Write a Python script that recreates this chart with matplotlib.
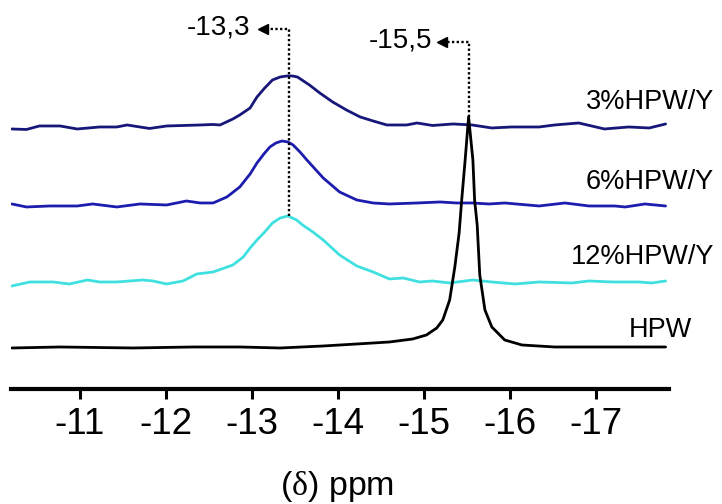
import matplotlib.pyplot as plt

plt.rcParams['font.family'] = ['Liberation Sans', 'DejaVu Sans']
plt.rcParams['axes.unicode_minus'] = False
plt.rcParams['mathtext.fontset'] = 'custom'
plt.rcParams['mathtext.rm'] = 'Liberation Serif'

# chemical shift (ppm) and intensity (a.u., relative to each baseline)
ppm_3 = [-10.21, -10.38, -10.53, -10.77, -10.97, -11.23, -11.43, -11.55, -11.81, -12.01,
         -12.40, -12.55, -12.63, -12.78, -12.86, -12.98, -13.06, -13.15, -13.24, -13.33,
         -13.41, -13.47, -13.53, -13.67, -13.79, -13.94, -14.10, -14.26, -14.41, -14.57,
         -14.80, -14.92, -15.10, -15.34, -15.56, -15.79, -16.02, -16.34, -16.52, -16.80,
         -17.10, -17.38, -17.62, -17.81]
int_3 = [-0.3, -0.35, 0.0, 0.0, -0.3, -0.1, -0.1, 0.1, -0.25, 0.0,
         0.1, 0.15, 0.1, 0.7, 1.1, 1.8, 2.9, 3.8, 4.6, 4.9,
         5.0, 5.0, 4.9, 4.1, 3.3, 2.4, 1.6, 0.9, 0.5, 0.1,
         0.1, 0.3, 0.05, 0.2, 0.1, -0.2, -0.1, -0.1, 0.1, 0.3,
         -0.3, -0.1, -0.2, 0.2]

ppm_6 = [-10.21, -10.38, -10.65, -10.97, -11.15, -11.43, -11.70, -12.01, -12.24, -12.40,
         -12.55, -12.71, -12.86, -12.98, -13.06, -13.14, -13.21, -13.28, -13.35, -13.42,
         -13.48, -13.56, -13.64, -13.83, -14.02, -14.22, -14.41, -14.60, -14.92, -15.19,
         -15.38, -15.56, -15.76, -15.94, -16.34, -16.64, -16.92, -17.22, -17.34, -17.57,
         -17.81]
int_6 = [0.0, -0.3, -0.2, -0.2, 0.0, -0.3, 0.0, -0.1, 0.3, 0.1,
         0.1, 0.7, 1.7, 3.0, 4.1, 5.0, 5.7, 6.1, 6.3, 6.2,
         5.9, 5.2, 4.4, 2.6, 1.2, 0.4, 0.1, 0.0, 0.1, 0.2,
         0.1, 0.1, 0.0, 0.1, -0.2, 0.1, -0.2, -0.2, -0.3, 0.0,
         -0.2]

ppm_12 = [-10.21, -10.42, -10.69, -10.88, -11.09, -11.23, -11.43, -11.73, -11.85, -12.01,
          -12.20, -12.36, -12.55, -12.78, -12.90, -12.98, -13.06, -13.15, -13.24, -13.33,
          -13.42, -13.52, -13.59, -13.71, -13.83, -14.02, -14.22, -14.41, -14.60, -14.76,
          -14.95, -15.10, -15.30, -15.57, -15.79, -16.06, -16.34, -16.72, -16.92, -17.19,
          -17.50, -17.65, -17.81]
int_12 = [-0.4, 0.0, 0.0, -0.2, 0.2, 0.0, 0.0, 0.2, 0.1, -0.2,
          0.1, 0.8, 1.0, 1.7, 2.5, 3.4, 4.2, 5.0, 5.9, 6.4,
          6.6, 6.2, 5.7, 5.0, 4.2, 2.7, 1.6, 1.0, 0.3, 0.4,
          0.0, 0.1, -0.1, 0.2, 0.0, -0.2, 0.0, -0.1, 0.1, 0.0,
          0.0, -0.1, 0.1]

ppm_hpw = [-10.21, -10.77, -11.62, -12.31, -12.86, -13.33, -13.83, -14.22, -14.60, -14.87,
           -15.03, -15.15, -15.22, -15.30, -15.36, -15.41, -15.44, -15.48, -15.52, -15.57,
           -15.59, -15.62, -15.65, -15.71, -15.79, -15.94, -16.14, -16.52, -17.05, -17.81]
int_hpw = [-0.1, 0.0, -0.1, 0.0, 0.0, -0.1, 0.1, 0.3, 0.5, 0.8,
           1.2, 1.9, 2.7, 4.7, 8.0, 11.4, 14.7, 18.7, 23.0, 18.7,
           14.7, 12.2, 7.2, 3.7, 2.0, 0.7, 0.2, 0.0, 0.0, 0.0]

names = ['3%HPW/Y', '6%HPW/Y', '12%HPW/Y', 'HPW']
peak_labels = ['-13,3', '-15,5']
peak_pos = [-13.43, -15.52]
xticks = [-11, -12, -13, -14, -15, -16, -17]

fig = plt.figure(figsize=(7.22, 5.04), dpi=100)
ax = fig.add_axes([0.0152, 0.2282, 0.9114, 0.754])

series = [(ppm_3, int_3, 26.3, '#17177a'),
          (ppm_6, int_6, 18.5, '#1c1cae'),
          (ppm_12, int_12, 10.7, '#40e0e0'),
          (ppm_hpw, int_hpw, 4.2, 'black')]
for xs, ys, off, col in series:
    ax.plot(xs, [v + off for v in ys], color=col, lw=2,
            solid_joinstyle='round', solid_capstyle='round')

# sample labels at the right side
label_y = [28.7, 20.7, 13.2, 5.9]
label_x = [1.068, 1.068, 1.068, 1.035]
for name, lx, ly in zip(names, label_x, label_y):
    ax.text(lx, ly, name, transform=ax.get_yaxis_transform(), ha='right', va='center',
            fontsize=19.5)

# peak markers: dotted line up from the peak, then left with arrow
peak_tops = [10.7 + max(int_12), 4.2 + max(int_hpw)]
corner_y = [36.0, 34.7]
tip_x = [-13.13, -15.21]
text_x = [-12.98, -15.10]
for lab, xp, yt, cy, tx, lx in zip(peak_labels, peak_pos, peak_tops, corner_y, tip_x, text_x):
    ax.plot([xp, xp, tx], [yt, cy, cy], color='black', lw=1.7, ls=(0, (1, 1)), zorder=5)
    ax.plot([tx], [cy], marker='<', color='black', ms=6.5, zorder=5)
    ax.text(lx, cy + 0.1, lab, ha='right', va='center', fontsize=20)

ax.set_xlim(-10.2, -17.85)
ax.set_ylim(0, 38)
ax.set_xticks(xticks)
ax.set_xticklabels([str(t) for t in xticks])
ax.set_yticks([])
for s in ['top', 'left', 'right']:
    ax.spines[s].set_visible(False)
ax.spines['bottom'].set_linewidth(3)
ax.tick_params(axis='x', direction='out', length=7, width=2.2, labelsize=26.5, pad=6)
ax.set_xlabel(r'($\mathrm{\delta}$) ppm', fontsize=24.5)
ax.xaxis.set_label_coords(0.495, -0.21)

fig.savefig('out.png', dpi=100)
